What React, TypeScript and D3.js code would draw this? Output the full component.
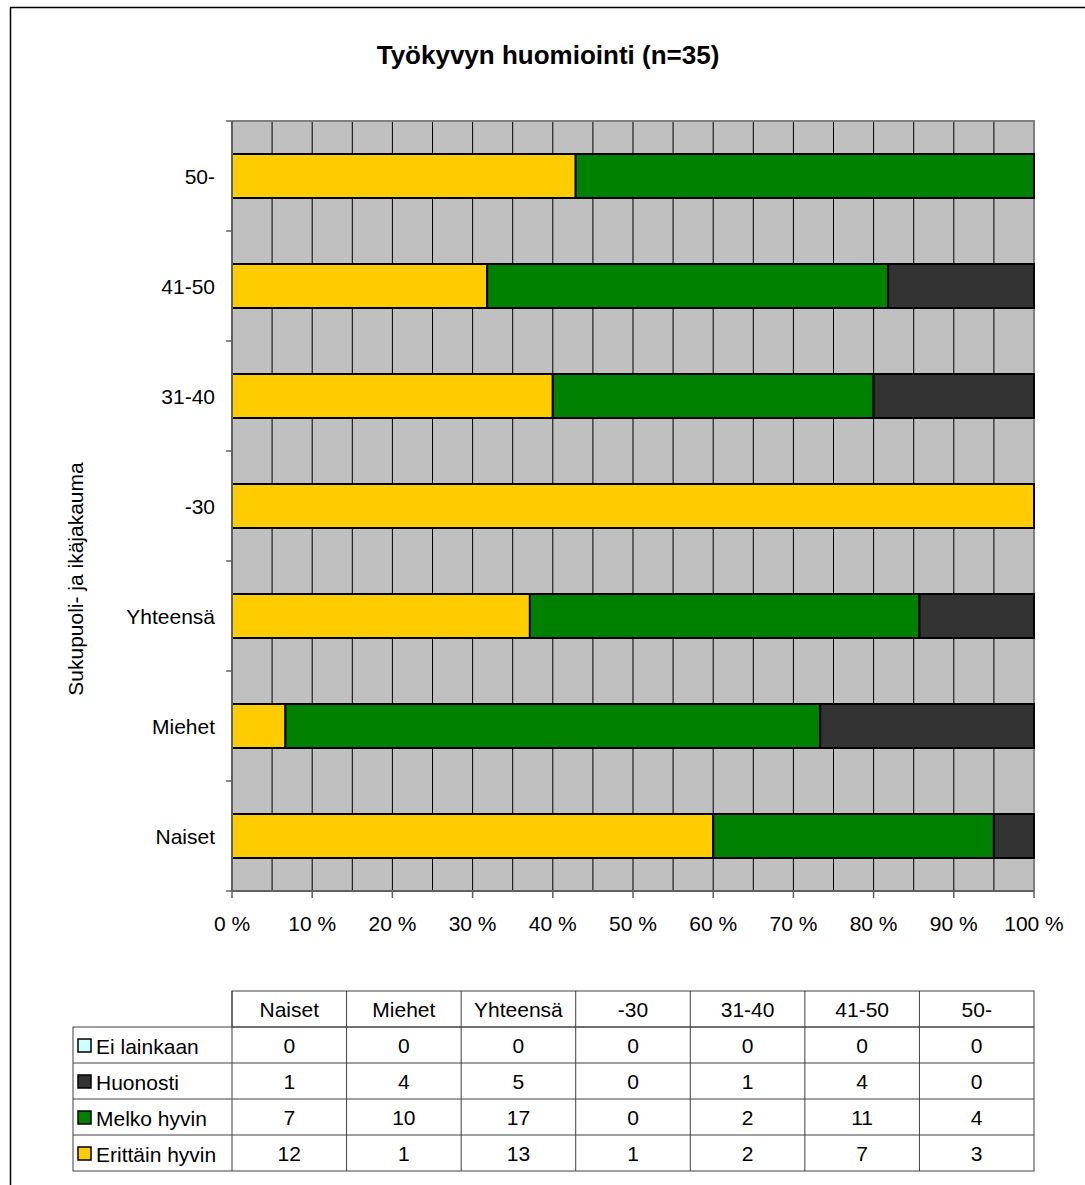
import { useEffect, useRef } from 'react';
import * as d3 from 'd3';

// Categories, left-to-right in the table, bottom-to-top in the chart
const CATEGORIES = ['Naiset', 'Miehet', 'Yhteensä', '-30', '31-40', '41-50', '50-'];

// Series, in table order (top to bottom)
const SERIES = ['Ei lainkaan', 'Huonosti', 'Melko hyvin', 'Erittäin hyvin'];
const EI_LAINKAAN = [0, 0, 0, 0, 0, 0, 0];
const HUONOSTI = [1, 4, 5, 0, 1, 4, 0];
const MELKO_HYVIN = [7, 10, 17, 0, 2, 11, 4];
const ERITTAIN_HYVIN = [12, 1, 13, 1, 2, 7, 3];

const X_TICKS = [0, 0.1, 0.2, 0.3, 0.4, 0.5, 0.6, 0.7, 0.8, 0.9, 1];
const GRID = [0, 0.05, 0.1, 0.15, 0.2, 0.25, 0.3, 0.35, 0.4, 0.45, 0.5, 0.55, 0.6, 0.65, 0.7, 0.75, 0.8, 0.85, 0.9, 0.95, 1];

const COLORS: Record<string, string> = {
  'Ei lainkaan': '#ccffff',
  Huonosti: '#333333',
  'Melko hyvin': '#008000',
  'Erittäin hyvin': '#ffcc00',
};

const FONT = 'Liberation Sans, Arial, sans-serif';
const FS = 21;
const W = 1085;
const H = 1185;

export default function App() {
  const svgRef = useRef<SVGSVGElement>(null);

  useEffect(() => {
    if (!svgRef.current) return;
    const svg = d3.select(svgRef.current);
    svg.selectAll('*').remove();

    const values: Record<string, number[]> = {
      'Ei lainkaan': EI_LAINKAAN,
      Huonosti: HUONOSTI,
      'Melko hyvin': MELKO_HYVIN,
      'Erittäin hyvin': ERITTAIN_HYVIN,
    };

    const plot = { left: 232, right: 1034, top: 121, bottom: 891 };

    // outer frame
    svg.append('rect')
      .attr('x', 10.5).attr('y', 7.5)
      .attr('width', W + 20).attr('height', H + 20)
      .attr('fill', '#fff').attr('stroke', '#000').attr('stroke-width', 1.5);

    const x = d3.scaleLinear().domain([0, 1]).range([plot.left, plot.right]);
    const y = d3.scaleBand<string>()
      .domain([...CATEGORIES].reverse())
      .range([plot.top, plot.bottom])
      .paddingInner(0.6)
      .paddingOuter(0.3);
    const step = y.step();

    // plot background
    svg.append('rect')
      .attr('x', plot.left).attr('y', plot.top)
      .attr('width', plot.right - plot.left).attr('height', plot.bottom - plot.top)
      .attr('fill', '#c0c0c0');

    // vertical gridlines
    svg.append('g')
      .selectAll('line')
      .data(GRID.slice(1, -1))
      .join('line')
      .attr('x1', d => x(d)).attr('x2', d => x(d))
      .attr('y1', plot.top).attr('y2', plot.bottom)
      .attr('stroke', '#000').attr('stroke-width', 1);

    // plot border top/right
    svg.append('path')
      .attr('d', `M${plot.left},${plot.top}H${plot.right}V${plot.bottom}`)
      .attr('fill', 'none').attr('stroke', '#808080').attr('stroke-width', 2);

    // stacked bars
    const stackOrder = ['Erittäin hyvin', 'Melko hyvin', 'Huonosti', 'Ei lainkaan'];
    CATEGORIES.forEach((cat, i) => {
      const total = SERIES.reduce((s, k) => s + values[k][i], 0);
      let acc = 0;
      stackOrder.forEach(k => {
        const v = values[k][i] / total;
        if (v > 0) {
          svg.append('rect')
            .attr('x', x(acc)).attr('y', y(cat)!)
            .attr('width', x(acc + v) - x(acc)).attr('height', y.bandwidth())
            .attr('fill', COLORS[k]).attr('stroke', '#000').attr('stroke-width', 2);
        }
        acc += v;
      });
    });

    // axes
    const axisColor = '#606060';
    svg.append('line')
      .attr('x1', plot.left).attr('x2', plot.left)
      .attr('y1', plot.top).attr('y2', plot.bottom)
      .attr('stroke', axisColor).attr('stroke-width', 2);
    svg.append('line')
      .attr('x1', plot.left).attr('x2', plot.right)
      .attr('y1', plot.bottom).attr('y2', plot.bottom)
      .attr('stroke', axisColor).attr('stroke-width', 2);

    // y ticks at band boundaries
    const boundaries = d3.range(CATEGORIES.length + 1).map(i => plot.top + i * step);
    svg.append('g')
      .selectAll('line')
      .data(boundaries)
      .join('line')
      .attr('x1', plot.left - 6).attr('x2', plot.left)
      .attr('y1', d => d).attr('y2', d => d)
      .attr('stroke', axisColor).attr('stroke-width', 1.5);

    // x ticks
    svg.append('g')
      .selectAll('line')
      .data(X_TICKS)
      .join('line')
      .attr('x1', d => x(d)).attr('x2', d => x(d))
      .attr('y1', plot.bottom).attr('y2', plot.bottom + 7)
      .attr('stroke', axisColor).attr('stroke-width', 1.5);

    svg.append('g')
      .selectAll('text')
      .data(X_TICKS)
      .join('text')
      .attr('x', d => x(d)).attr('y', 923)
      .attr('text-anchor', 'middle').attr('dominant-baseline', 'central')
      .attr('font-family', FONT).attr('font-size', FS)
      .text(d => `${Math.round(d * 100)} %`);

    // category labels
    svg.append('g')
      .selectAll('text')
      .data(CATEGORIES)
      .join('text')
      .attr('x', 215).attr('y', d => y(d)! + y.bandwidth() / 2)
      .attr('text-anchor', 'end').attr('dominant-baseline', 'central')
      .attr('font-family', FONT).attr('font-size', FS)
      .text(d => d);

    // title
    svg.append('text')
      .attr('x', 548).attr('y', 55)
      .attr('text-anchor', 'middle').attr('dominant-baseline', 'central')
      .attr('font-family', FONT).attr('font-size', 26).attr('font-weight', 'bold')
      .text('Työkyvyn huomiointi (n=35)');

    // y-axis title
    svg.append('text')
      .attr('transform', 'translate(75,579) rotate(-90)')
      .attr('text-anchor', 'middle').attr('dominant-baseline', 'central')
      .attr('font-family', FONT).attr('font-size', FS)
      .text('Sukupuoli- ja ikäjakauma');

    // data table
    const col = d3.scaleBand<string>().domain(CATEGORIES).range([plot.left, plot.right]);
    const tableTop = 991;
    const rowH = 36;
    const legendLeft = 73;
    const bodyTop = tableTop + rowH;
    const bodyBottom = bodyTop + rowH * SERIES.length;
    const lineColor = '#404040';
    const tg = svg.append('g');

    tg.append('rect')
      .attr('x', plot.left).attr('y', tableTop)
      .attr('width', plot.right - plot.left).attr('height', rowH)
      .attr('fill', 'none').attr('stroke', lineColor);
    tg.append('rect')
      .attr('x', legendLeft).attr('y', bodyTop)
      .attr('width', plot.right - legendLeft).attr('height', bodyBottom - bodyTop)
      .attr('fill', 'none').attr('stroke', lineColor);
    d3.range(1, SERIES.length).forEach(r => {
      tg.append('line')
        .attr('x1', legendLeft).attr('x2', plot.right)
        .attr('y1', bodyTop + r * rowH).attr('y2', bodyTop + r * rowH)
        .attr('stroke', lineColor);
    });
    CATEGORIES.forEach(c => {
      tg.append('line')
        .attr('x1', col(c)!).attr('x2', col(c)!)
        .attr('y1', tableTop).attr('y2', bodyBottom)
        .attr('stroke', lineColor);
    });

    CATEGORIES.forEach(c => {
      tg.append('text')
        .attr('x', col(c)! + col.bandwidth() / 2).attr('y', tableTop + rowH / 2)
        .attr('text-anchor', 'middle').attr('dominant-baseline', 'central')
        .attr('font-family', FONT).attr('font-size', FS)
        .text(c);
    });

    SERIES.forEach((s, r) => {
      const cy = bodyTop + r * rowH + rowH / 2;
      tg.append('rect')
        .attr('x', 78).attr('y', cy - 6)
        .attr('width', 13).attr('height', 13)
        .attr('fill', COLORS[s]).attr('stroke', '#000').attr('stroke-width', 1.5);
      tg.append('text')
        .attr('x', 96).attr('y', cy + 1)
        .attr('dominant-baseline', 'central')
        .attr('font-family', FONT).attr('font-size', FS)
        .text(s);
      CATEGORIES.forEach((c, i) => {
        tg.append('text')
          .attr('x', col(c)! + col.bandwidth() / 2).attr('y', cy)
          .attr('text-anchor', 'middle').attr('dominant-baseline', 'central')
          .attr('font-family', FONT).attr('font-size', FS)
          .text(values[s][i]);
      });
    });
  }, []);

  return (
    <svg
      ref={svgRef}
      width={W}
      height={H}
      style={{ position: 'absolute', left: 0, top: 0, background: '#fff' }}
    />
  );
}
